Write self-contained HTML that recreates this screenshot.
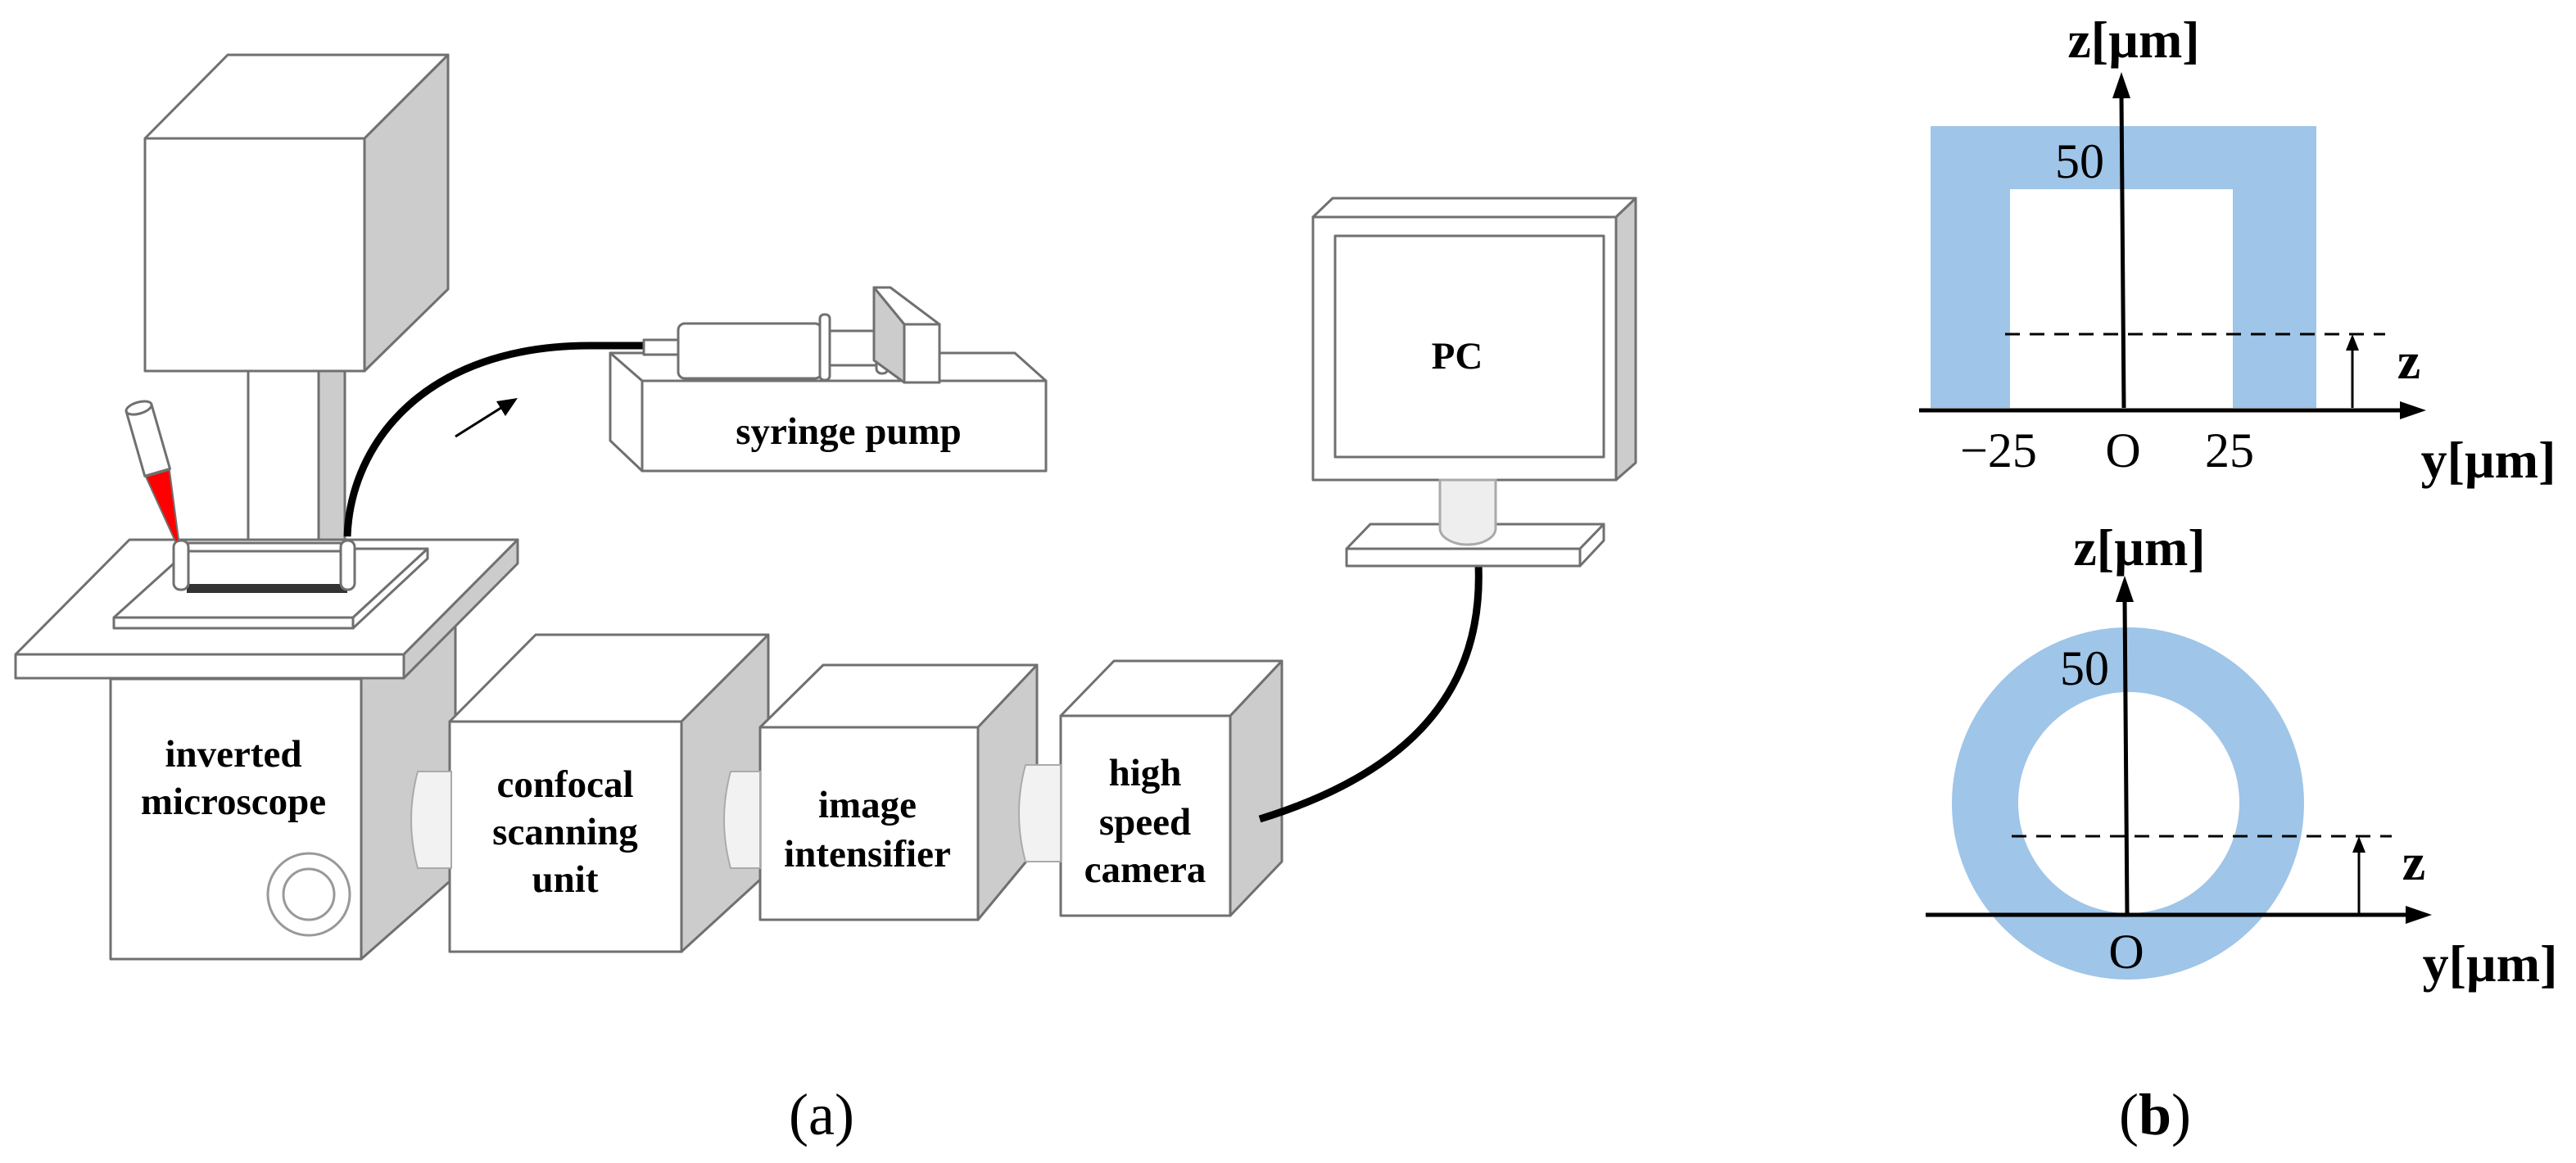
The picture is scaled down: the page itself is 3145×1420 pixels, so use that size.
<!DOCTYPE html>
<html><head><meta charset="utf-8"><style>
html,body{margin:0;padding:0;background:#fff;}
svg{display:block;}
.s{stroke:#707070;stroke-width:3;stroke-linejoin:round;}
.w{fill:#fff;}
.g{fill:#cccccc;}
.lbl{font-family:"Liberation Serif",serif;font-weight:bold;font-size:47px;fill:#000;text-anchor:middle;}
.ax{font-family:"Liberation Serif",serif;font-size:60px;fill:#000;}
.axb{font-family:"Liberation Serif",serif;font-size:64px;font-weight:bold;fill:#000;}
</style></head><body>
<svg width="3145" height="1420" viewBox="0 0 3145 1420" xmlns="http://www.w3.org/2000/svg">

<!-- top microscope box -->
<polygon class="s w" points="177,169 278,67 547,67 445,169"/>
<polygon class="s g" points="445,169 547,67 547,353 445,453"/>
<rect class="s w" x="177" y="169" width="268" height="284"/>
<!-- stem -->
<rect class="s w" x="303" y="453" width="86" height="206"/>
<rect class="s g" x="389" y="453" width="32" height="206"/>

<!-- microscope body -->
<polygon class="s g" points="441,829 556,700 556,1070 441,1171"/>
<rect class="s w" x="135" y="829" width="306" height="342"/>
<circle cx="377" cy="1092" r="50" fill="none" stroke="#999" stroke-width="3"/>
<circle cx="377" cy="1092" r="31" fill="none" stroke="#999" stroke-width="3"/>
<!-- platform -->
<polygon class="s w" points="19,799 158,659 632,659 493,799"/>
<polygon class="s g" points="493,799 632,659 632,688 493,828"/>
<rect class="s w" x="19" y="799" width="474" height="29"/>
<!-- slide -->
<polygon class="s w" points="139,754 232,670 522,670 431,754"/>
<polygon class="s w" points="431,754 522,670 522,682 431,767"/>
<rect class="s w" x="139" y="754" width="292" height="13"/>
<!-- chip -->
<rect class="s w" x="222" y="663" width="198" height="10"/>
<rect x="228" y="713" width="196" height="11" fill="#333"/>
<rect class="s w" x="212" y="660" width="18" height="60" rx="8"/>
<rect class="s w" x="416" y="660" width="17" height="60" rx="8"/>

<!-- pipette -->
<g transform="rotate(-16 192 580)">
<rect class="s w" x="177" y="495" width="32" height="82"/>
<ellipse class="s w" cx="193" cy="495" rx="16" ry="7"/>
<polygon points="178,578 208,578 195,665 191,665" fill="#ff0000" stroke="#707070" stroke-width="2"/>
</g>

<!-- tubing -->
<path d="M424,655 C428,540 520,422 720,422 L790,422" fill="none" stroke="#000" stroke-width="9"/>
<!-- small arrow -->
<line x1="556" y1="533" x2="618" y2="494" stroke="#000" stroke-width="3"/>
<polygon points="632,486 606,490 617,508" fill="#000"/>

<!-- syringe pump -->
<polygon class="s w" points="745,431 1239,431 1277,465 784,465"/>
<polygon class="s w" points="745,431 784,465 784,575 745,538"/>
<rect class="s w" x="784" y="465" width="493" height="110"/>
<text class="lbl" x="1036" y="542" font-size="46">syringe pump</text>
<rect class="s w" x="786" y="415" width="46" height="18"/>
<rect class="s w" x="828" y="395" width="175" height="67" rx="8"/>
<rect class="s w" x="1001" y="384" width="12" height="80" rx="5"/>
<rect class="s w" x="1013" y="404" width="60" height="42"/>
<rect class="s w" x="1070" y="394" width="14" height="62" rx="6"/>
<polygon class="s w" points="1067,351 1087,351 1147,396 1104,396"/>
<polygon class="s g" points="1067,351 1104,396 1104,467 1067,440"/>
<rect class="s w" x="1104" y="396" width="43" height="71"/>

<!-- confocal -->
<polygon class="s w" points="549,881 654,775 938,775 832,881"/>
<polygon class="s g" points="832,881 938,775 938,1065 832,1162"/>
<rect class="s w" x="549" y="881" width="283" height="281"/>
<text class="lbl" x="690" y="973">confocal</text>
<text class="lbl" x="690" y="1031">scanning</text>
<text class="lbl" x="690" y="1089">unit</text>

<!-- image intensifier -->
<polygon class="s w" points="928,888 1005,812 1266,812 1194,888"/>
<polygon class="s g" points="1194,888 1266,812 1266,1036 1194,1123"/>
<rect class="s w" x="928" y="888" width="266" height="235"/>
<text class="lbl" x="1059" y="998">image</text>
<text class="lbl" x="1059" y="1058">intensifier</text>

<!-- camera -->
<polygon class="s w" points="1295,874 1360,807 1565,807 1502,874"/>
<polygon class="s g" points="1502,874 1565,807 1565,1052 1502,1118"/>
<rect class="s w" x="1295" y="874" width="207" height="244"/>
<text class="lbl" x="1398" y="959">high</text>
<text class="lbl" x="1398" y="1019">speed</text>
<text class="lbl" x="1398" y="1077">camera</text>

<!-- connectors (drawn on top) -->
<path d="M551,942 L510,942 Q494,1001 510,1060 L551,1060 Z" fill="#f2f2f2" stroke="#aaa" stroke-width="2"/>
<path d="M928,942 L892,942 Q876,1001 892,1060 L928,1060 Z" fill="#f2f2f2" stroke="#aaa" stroke-width="2"/>
<path d="M1295,934 L1252,934 Q1236,993 1252,1052 L1295,1052 Z" fill="#f2f2f2" stroke="#aaa" stroke-width="2"/>

<!-- inverted microscope label -->
<text class="lbl" x="285" y="936">inverted</text>
<text class="lbl" x="285" y="994">microscope</text>

<!-- cable camera-PC -->
<path d="M1538,1000 C1700,950 1812,860 1805,690" fill="none" stroke="#000" stroke-width="9"/>

<!-- monitor -->
<polygon class="s w" points="1603,265 1627,242 1997,242 1973,265"/>
<polygon class="s g" points="1973,265 1997,242 1997,565 1973,586"/>
<rect class="s w" x="1603" y="265" width="370" height="321"/>
<rect class="s w" x="1630" y="288" width="328" height="270"/>
<text class="lbl" x="1779" y="450" font-size="46">PC</text>
<polygon class="s w" points="1644,670 1673,640 1958,640 1929,670"/>
<polygon class="s w" points="1929,670 1958,640 1958,660 1929,691"/>
<rect class="s w" x="1644" y="670" width="285" height="21"/>
<path d="M1758,586 L1758,645 A34,20 0 0 0 1826,645 L1826,586 Z" fill="#eeeeee" stroke="#aaa" stroke-width="3"/>

<!-- (a) (b) -->
<text x="1003" y="1385" font-family="Liberation Serif,serif" font-size="72" text-anchor="middle">(a)</text>
<text x="2631" y="1385" font-family="Liberation Serif,serif" font-size="72" text-anchor="middle">(<tspan font-weight="bold">b</tspan>)</text>

<!-- panel b top -->
<path d="M2357,154 H2828 V498 H2726 V231 H2454 V498 H2357 Z" fill="#9fc5e8"/>
<line x1="2448" y1="408" x2="2912" y2="408" stroke="#000" stroke-width="3" stroke-dasharray="18,12"/>
<line x1="2343" y1="501" x2="2935" y2="501" stroke="#000" stroke-width="5"/>
<polygon points="2962,501 2930,490 2930,512" fill="#000"/>
<line x1="2593" y1="498" x2="2590" y2="115" stroke="#000" stroke-width="5"/>
<polygon points="2590,88 2579,120 2601,120" fill="#000"/>
<line x1="2872" y1="498" x2="2872" y2="425" stroke="#000" stroke-width="3"/>
<polygon points="2872,408 2864,428 2880,428" fill="#000"/>
<text class="axb" x="2605" y="70" text-anchor="middle">z[µm]</text>
<text class="ax" x="2539" y="217" text-anchor="middle">50</text>
<text class="ax" x="2440" y="570" text-anchor="middle">−25</text>
<text class="ax" x="2592" y="570" text-anchor="middle">O</text>
<text class="ax" x="2722" y="570" text-anchor="middle">25</text>
<text class="axb" x="2941" y="462" text-anchor="middle" font-size="54">z</text>
<text class="axb" x="3038" y="583" text-anchor="middle">y[µm]</text>

<!-- panel b bottom -->
<circle cx="2598" cy="981" r="215" fill="#9fc5e8"/>
<circle cx="2599" cy="980" r="135" fill="#fff"/>
<line x1="2456" y1="1021" x2="2920" y2="1021" stroke="#000" stroke-width="3" stroke-dasharray="18,12"/>
<line x1="2351" y1="1117" x2="2942" y2="1117" stroke="#000" stroke-width="5"/>
<polygon points="2969,1117 2937,1106 2937,1128" fill="#000"/>
<line x1="2597" y1="1117" x2="2594" y2="730" stroke="#000" stroke-width="5"/>
<polygon points="2594,703 2583,735 2605,735" fill="#000"/>
<line x1="2880" y1="1117" x2="2880" y2="1038" stroke="#000" stroke-width="3"/>
<polygon points="2880,1021 2872,1041 2888,1041" fill="#000"/>
<text class="axb" x="2612" y="690" text-anchor="middle">z[µm]</text>
<text class="ax" x="2545" y="836" text-anchor="middle">50</text>
<text class="ax" x="2596" y="1182" text-anchor="middle">O</text>
<text class="axb" x="2947" y="1074" text-anchor="middle" font-size="54">z</text>
<text class="axb" x="3040" y="1198" text-anchor="middle">y[µm]</text>
</svg>
</body></html>
